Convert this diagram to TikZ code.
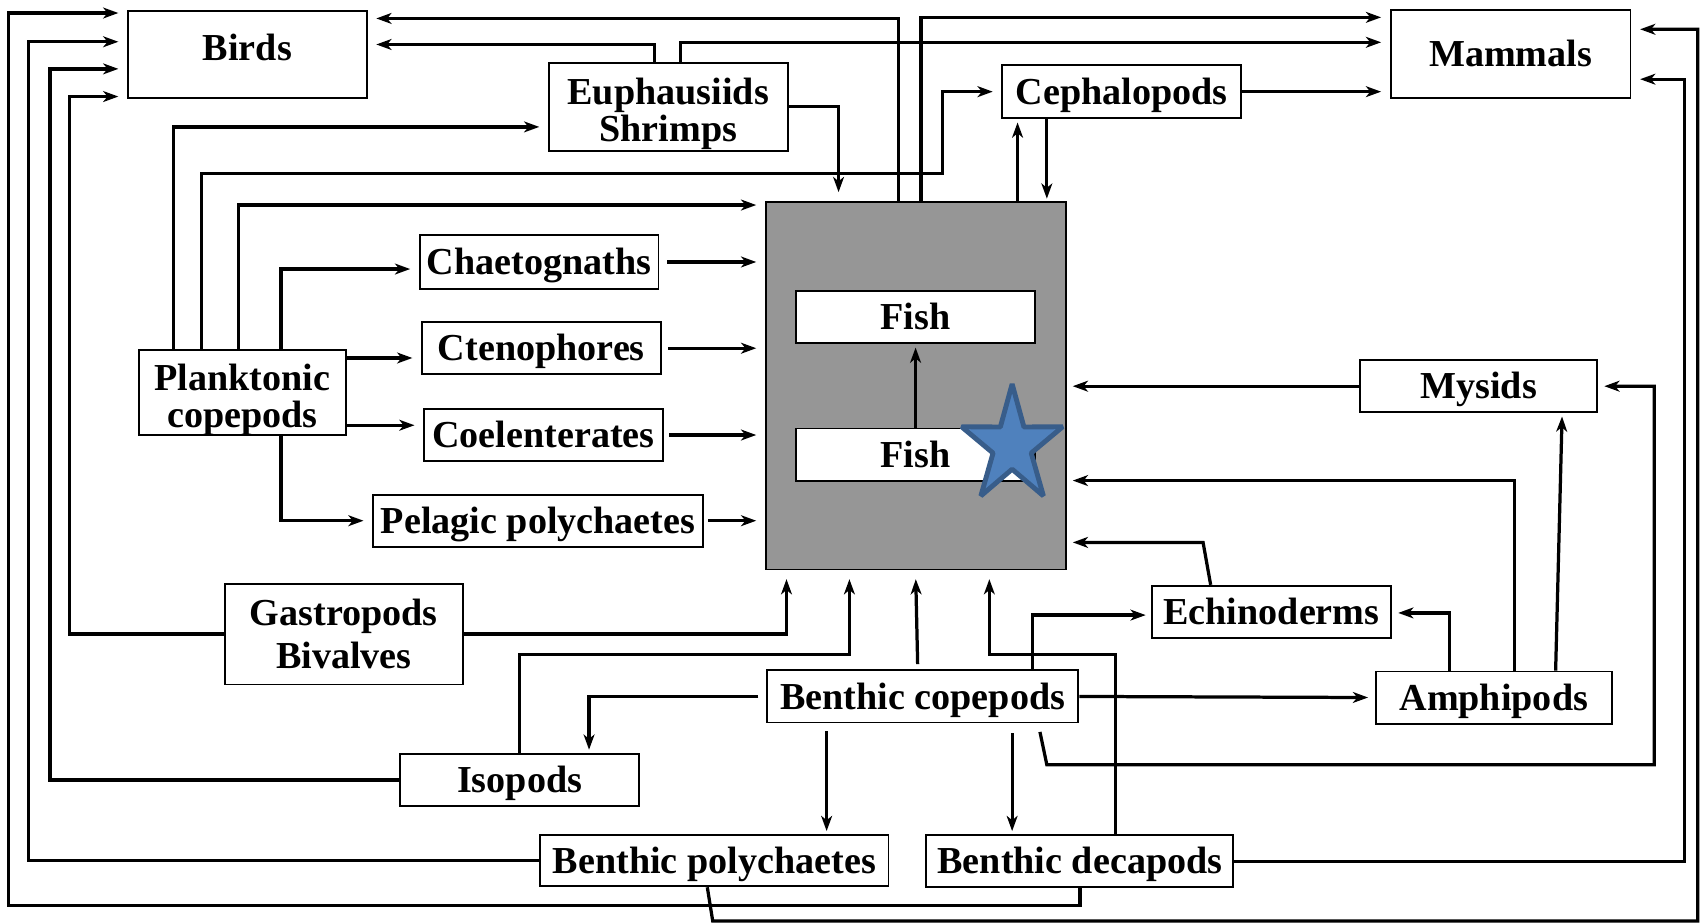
\documentclass[tikz,border=0pt]{standalone}
\usepackage{fontspec}
\setmainfont{Liberation Serif}
\usetikzlibrary{arrows.meta}
\definecolor{fishgrey}{RGB}{150,150,150}
\definecolor{starblue}{RGB}{79,129,189}
\definecolor{staredge}{RGB}{56,93,138}
\tikzset{
  taxon/.style={draw, fill=white, line width=0.5pt, inner sep=0pt, align=center,
    font=\fontsize{10}{9.7}\selectfont\bfseries, minimum width=22mm, minimum height=4.8mm},
  oneline/.style={taxon, text height=0.9em, text depth=0.24em},
  link/.style={->, line width=0.85pt, shorten >=0.8mm},
  bluestar/.style={fill=starblue, draw=staredge, line width=0.45mm, line join=bevel}
}
\begin{document}
\begin{tikzpicture}[x=0.1mm, y=-0.1mm, >={Stealth[length=1.4mm, width=1mm, inset=0.4mm]}]
  \useasboundingbox (0,0) rectangle (1568,851);
  \node[draw, fill=fishgrey, line width=0.5pt, minimum width=27.7mm, minimum height=33.9mm] (fishbox) at (844.5,355.5) {};
  \node[oneline] (fishtop) at (844,292.5) {Fish};
  \node[oneline] (fishbot) at (844,419) {Fish};
  \node[oneline, minimum height=8mm, text depth=2.04mm] (birds) at (228,50) {Birds};
  \node[taxon, minimum height=8.1mm] (euph) at (616,98.5) {\rule{0pt}{1.05em}Euphausiids\\Shrimps};
  \node[oneline, minimum height=4.9mm] (ceph) at (1034,84.5) {Cephalopods};
  \node[oneline, minimum width=22.1mm, minimum height=8.1mm] (mammals) at (1392.5,49.5) {Mammals};
  \node[taxon, minimum width=19.1mm, minimum height=7.8mm] (plank) at (223.5,362) {\rule{0pt}{1.05em}Planktonic\\copepods};
  \node[oneline, minimum height=4.9mm] (chaet) at (497,241.5) {Chaetognaths};
  \node[oneline] (cteno) at (499,321) {Ctenophores};
  \node[oneline] (coel) at (501,401) {Coelenterates};
  \node[oneline, minimum width=30.4mm] (pelpoly) at (496,480) {Pelagic polychaetes};
  \node[taxon, minimum height=9.3mm, font=\fontsize{10}{11.4}\selectfont\bfseries] (gastro) at (317,584.5) {Gastropods\\Bivalves};
  \node[oneline] (isopods) at (479,719) {Isopods};
  \node[oneline, minimum width=28.7mm] (bcope) at (850.5,642) {Benthic copepods};
  \node[oneline, minimum width=32.1mm, minimum height=4.7mm] (bpoly) at (658.5,793.5) {Benthic polychaetes};
  \node[oneline, minimum width=28.3mm] (bdeca) at (995.5,794) {Benthic decapods};
  \node[oneline] (echino) at (1172,564) {Echinoderms};
  \node[oneline, minimum width=21.8mm] (amphi) at (1377,643) {Amphipods};
  \node[oneline, minimum width=21.8mm] (mysids) at (1363,356) {Mysids};
  \begin{scope}[shift={(933,411)}, xscale=0.86]
    \draw[bluestar] (-90:57) -- (-54:21.5) -- (-18:57) -- (18:21.5) -- (54:57) -- (90:21.5)
      -- (126:57) -- (162:21.5) -- (198:57) -- (234:21.5) -- cycle;
  \end{scope}
  \draw[link] (bdeca.south) -- (bdeca.south |- 0,835) -- (7.5,835) -- (7.5,12) -- (birds.west |- 0,12);
  \draw[link] (bpoly.west) -- (bpoly.west -| 26,0) -- (26,38.5) -- (birds.west |- 0,38.5);
  \draw[link] (isopods.west) -- (isopods.west -| 46,0) -- (46,63.5) -- (birds.west |- 0,63.5);
  \draw[link] (gastro.west) -- (gastro.west -| 64,0) -- (64,89) -- (birds.west |- 0,89);
  \draw[link] (fishbox.north -| 828,0) -- (828,17) -- (birds.east |- 0,17);
  \draw[link] (fishbox.north -| 849,0) -- (849,16) -- (mammals.west |- 0,16);
  \draw[link] (euph.north -| 603,0) -- (603,41) -- (birds.east |- 0,41);
  \draw[link] (euph.north -| 627,0) -- (627,39) -- (mammals.west |- 0,39);
  \draw[link] (euph.east) -- (euph.east -| 773,0) -- (fishbox.north -| 773,0);
  \draw[link] (plank.north -| 160,0) -- (160,117) -- (euph.west |- 0,117);
  \draw[link] (plank.north -| 186,0) -- (186,160) -- (869,160) -- (869,84.5) -- (ceph.west);
  \draw[link] (plank.north -| 220,0) -- (220,189) -- (fishbox.west |- 0,189);
  \draw[link] (plank.north -| 259,0) -- (259,248) -- (chaet.west |- 0,248);
  \draw[link] (plank.east |- 0,330) -- (cteno.west |- 0,330);
  \draw[link] (plank.east |- 0,392) -- (coel.west |- 0,392);
  \draw[link] (plank.south -| 259,0) -- (259,480) -- (pelpoly.west);
  \draw[link, shorten <=0.7mm] (chaet.east) -- (fishbox.west |- chaet.east);
  \draw[link, shorten <=0.6mm] (cteno.east) -- (fishbox.west |- cteno.east);
  \draw[link, shorten <=0.5mm] (coel.east) -- (fishbox.west |- coel.east);
  \draw[link, shorten <=0.4mm] (pelpoly.east) -- (fishbox.west |- pelpoly.east);
  \draw[link] (ceph.east) -- (mammals.west |- ceph.east);
  \draw[link, shorten >=0.3mm] (fishbox.north -| 938,0) -- (ceph.south -| 938,0);
  \draw[link, shorten >=0.2mm] (ceph.south -| 965,0) -- (fishbox.north -| 965,0);
  \draw[link, shorten >=0.3mm] (fishbot.north) -- (fishtop.south);
  \draw[link, shorten >=0.5mm] (mysids.west) -- (fishbox.east |- mysids.west);
  \draw[link, shorten >=0.5mm] (amphi.north -| 1396,0) -- (1396,443) -- (fishbox.east |- 0,443);
  \draw[link, shorten >=0.5mm] (echino.north -| 1116,0) -- (1109,500) -- (fishbox.east |- 0,500);
  \draw[link, shorten >=0.3mm] (amphi.north -| 1434,0) -- (mysids.south -| 1440,0);
  \draw[link, shorten <=0.8mm, shorten >=0.6mm] (bcope.south -| 957,0) -- (965,705) -- (1525,705) -- (1525,356) -- (mysids.east);
  \draw[link, shorten >=0.6mm] (amphi.north -| 1336,0) -- (1336,565) -- (echino.east |- 0,565);
  \draw[link, shorten >=0.5mm] (bcope.north -| 952,0) -- (952,567) -- (echino.west |- 0,567);
  \draw[link, shorten >=0.6mm] (bcope.east) -- (amphi.west);
  \draw[link] (bdeca.north -| 1028,0) -- (1028,603) -- (912,603) -- (fishbox.south -| 912,0);
  \draw[link, shorten <=0.5mm] (bcope.north -| 846,0) -- (fishbox.south -| 844,0);
  \draw[link] (isopods.north) -- (479,603) -- (783,603) -- (fishbox.south -| 783,0);
  \draw[link] (gastro.east) -- (gastro.east -| 725,0) -- (fishbox.south -| 725,0);
  \draw[link, shorten <=0.7mm, shorten >=0.3mm] (bcope.west) -- (bcope.west -| 543,0) -- (isopods.north -| 543,0);
  \draw[link, shorten <=0.7mm, shorten >=0.3mm] (bcope.south -| 762,0) -- (bpoly.north -| 762,0);
  \draw[link, shorten <=0.9mm, shorten >=0.3mm] (bcope.south -| 933,0) -- (bdeca.north -| 933,0);
  \draw[link] (bpoly.south -| 652,0) -- (657,849) -- (1565,849) -- (1565,27) -- (mammals.east |- 0,27);
  \draw[link] (bdeca.east) -- (bdeca.east -| 1553,0) -- (1553,73) -- (mammals.east |- 0,73);
\end{tikzpicture}
\end{document}
